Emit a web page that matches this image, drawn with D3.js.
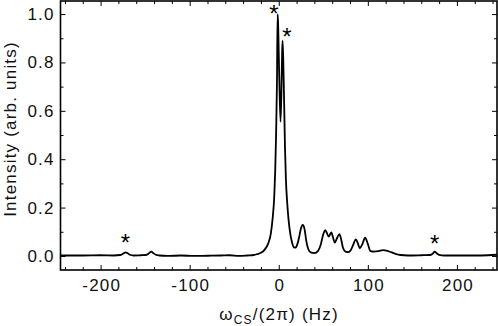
<!DOCTYPE html>
<html>
<head>
<meta charset="utf-8">
<script src="https://cdn.jsdelivr.net/npm/d3@7"></script>
<style>
  body { margin: 0; background: #fff; }
  text { font-family: "Liberation Sans", Arial, sans-serif; }
</style>
</head>
<body>
<svg id="chart" width="498" height="326"></svg>
<script>
// spectrum: frequency (Hz) and intensity
var freq = [-245, -220, -200, -185, -178, -175, -172, -170, -167, -163, -155, -149, -146, -143, -141, -138, -134,
  -125, -110, -95, -80, -65, -55, -45, -35, -28, -24, -20, -16, -12, -9, -7, -5, -4, -3, -2, -1.3, -0.8,
  0.5, 2, 3, 3.8, 4.3, 5, 5.8, 7, 8, 9.5, 11, 13, 15, 17, 19, 21, 23, 25, 27, 29, 31, 33, 36, 40, 44, 47,
  50, 52, 54, 56, 59, 61, 63, 65, 68, 70, 72, 75, 78, 81, 84, 86.5, 89, 91, 94, 97, 100, 103, 107, 112,
  117, 121, 126, 131, 137, 145, 160, 170, 173, 175, 177, 180, 186, 200, 220, 235, 245];
var intensity = [0.002, 0.002, 0.003, 0.002, 0.004, 0.009, 0.015, 0.012, 0.005, 0.002, 0.003, 0.004, 0.01, 0.018,
  0.012, 0.005, 0.002, 0.0, 0.002, 0.0, 0.001, 0.002, 0.003, 0.0, 0.002, 0.004, 0.008, 0.013, 0.025,
  0.05, 0.09, 0.15, 0.25, 0.35, 0.5, 0.72, 1.0, 0.97, 0.75, 0.555, 0.68, 0.84, 0.89, 0.82, 0.68, 0.45,
  0.32, 0.22, 0.15, 0.09, 0.055, 0.036, 0.035, 0.05, 0.08, 0.115, 0.128, 0.11, 0.06, 0.03, 0.015, 0.012,
  0.02, 0.045, 0.09, 0.107, 0.095, 0.08, 0.097, 0.075, 0.055, 0.07, 0.09, 0.07, 0.035, 0.018, 0.016, 0.025,
  0.05, 0.069, 0.05, 0.032, 0.05, 0.076, 0.05, 0.02, 0.018, 0.02, 0.024, 0.022, 0.016, 0.009, 0.004,
  0.002, 0.003, 0.004, 0.01, 0.018, 0.012, 0.005, 0.002, 0.002, 0.002, 0.003, 0.005];

// asterisk marks placed above the labelled peaks
var starX = [-172, -5.5, 9.3, 175];
var starY = [0.097, 1.042, 0.947, 0.09];

var xMajor = [-200, -100, 0, 100, 200];
var yMajor = [0.0, 0.2, 0.4, 0.6, 0.8, 1.0];

var W = 498, H = 326;
var mLeft = 60.5, mRight = 497, mTop = 1, mBottom = 270;
var fontSize = 17, spacing = 1.2;

var svg = d3.select("#chart");

var x = d3.scaleLinear().domain([-245, 245]).range([mLeft, mRight]);
var y = d3.scaleLinear().domain([-0.058, 1.054]).range([mBottom, mTop]);

var xMinor = d3.range(-240, 241, 20).filter(function (v) { return v % 100 !== 0; });
var yMinor = [0.1, 0.3, 0.5, 0.7, 0.9];

function styleAxis(g) {
  g.select(".domain").remove();
  g.selectAll("line").attr("stroke", "#000").attr("stroke-width", 1);
  g.selectAll("text").attr("font-size", fontSize).attr("letter-spacing", spacing).attr("fill", "#111");
}

// bottom axis
svg.append("g").attr("transform", "translate(0," + mBottom + ")")
  .call(d3.axisBottom(x).tickValues(xMajor).tickSize(-5).tickPadding(9).tickFormat(function (d) { return String(d); }))
  .call(styleAxis)
  .selectAll("text").attr("dx", spacing / 2);
svg.append("g").attr("transform", "translate(0," + mBottom + ")")
  .call(d3.axisBottom(x).tickValues(xMinor).tickSize(-3).tickFormat(""))
  .call(styleAxis);
// top axis
svg.append("g").attr("transform", "translate(0," + mTop + ")")
  .call(d3.axisTop(x).tickValues(xMajor).tickSize(-5).tickFormat(""))
  .call(styleAxis);
svg.append("g").attr("transform", "translate(0," + mTop + ")")
  .call(d3.axisTop(x).tickValues(xMinor).tickSize(-3).tickFormat(""))
  .call(styleAxis);
// left axis
svg.append("g").attr("transform", "translate(" + mLeft + ",0)")
  .call(d3.axisLeft(y).tickValues(yMajor).tickSize(-5).tickPadding(7).tickFormat(function (d) { return d.toFixed(1); }))
  .call(styleAxis)
  .selectAll("text").attr("dx", spacing);
svg.append("g").attr("transform", "translate(" + mLeft + ",0)")
  .call(d3.axisLeft(y).tickValues(yMinor).tickSize(-3).tickFormat(""))
  .call(styleAxis);
// right axis
svg.append("g").attr("transform", "translate(" + mRight + ",0)")
  .call(d3.axisRight(y).tickValues(yMajor).tickSize(-5).tickFormat(""))
  .call(styleAxis);
svg.append("g").attr("transform", "translate(" + mRight + ",0)")
  .call(d3.axisRight(y).tickValues(yMinor).tickSize(-3).tickFormat(""))
  .call(styleAxis);

// frame
svg.append("rect")
  .attr("x", mLeft).attr("y", mTop)
  .attr("width", mRight - mLeft).attr("height", mBottom - mTop)
  .attr("fill", "none").attr("stroke", "#000").attr("stroke-width", 1.6);

// spectrum
var pts = freq.map(function (f, i) { return [f, intensity[i]]; });
var line = d3.line()
  .x(function (d) { return x(d[0]); })
  .y(function (d) { return y(d[1]); })
  .curve(d3.curveMonotoneX);

svg.append("path")
  .datum(pts)
  .attr("d", line)
  .attr("fill", "none")
  .attr("stroke", "#000")
  .attr("stroke-width", 1.8)
  .attr("stroke-linejoin", "round");

// asterisks
svg.append("g").selectAll("text")
  .data(starX)
  .enter().append("text")
  .attr("x", function (d) { return x(d); })
  .attr("y", function (d, i) { return y(starY[i]); })
  .attr("text-anchor", "middle")
  .attr("font-size", 24)
  .attr("fill", "#000")
  .attr("dy", "0.75em")
  .text("*");

// axis titles
var xt = svg.append("text")
  .attr("x", 279).attr("y", 320)
  .attr("text-anchor", "middle")
  .attr("font-size", fontSize)
  .attr("letter-spacing", spacing)
  .attr("fill", "#111");
xt.append("tspan").text("ω");
xt.append("tspan").attr("font-size", 12).attr("dy", 4).text("CS");
xt.append("tspan").attr("dy", -4).text("/(2π) (Hz)");

svg.append("text")
  .attr("transform", "translate(16,129) rotate(-90)")
  .attr("text-anchor", "middle")
  .attr("font-size", fontSize)
  .attr("letter-spacing", spacing)
  .attr("fill", "#111")
  .text("Intensity (arb. units)");
</script>
</body>
</html>
